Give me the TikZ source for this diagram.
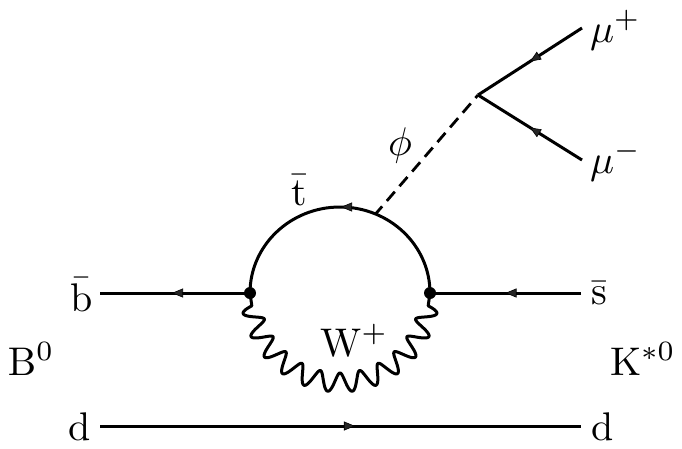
\documentclass[tikz,border=0pt]{standalone}
\usetikzlibrary{decorations.markings,arrows.meta}
\tikzset{
 x=1pt,y=-1pt,
 lbl/.style={anchor=base west,inner sep=0pt,outer sep=0pt,scale=4},
 blob/.style={circle,fill=black,inner sep=0pt,minimum size=12pt},
 tip/.style={decorate,decoration={markings,
   mark=at position #1 with {\arrow{Triangle[length=11pt,width=9pt,line width=0.6pt,fill=black!85]}}}},
 fermion/.style={line width=3pt,postaction={tip=#1}},
 fermion/.default=0.5,
 scalar/.style={line width=2.8pt,dash pattern=on 12.2pt off 7.2pt,dash phase=2.8pt},
 boson/.style={line width=3pt,line join=round}
}
\begin{document}
\begin{tikzpicture}
\useasboundingbox (0,0) rectangle (682,448);
\coordinate (bl) at (100,293);
\coordinate (sr) at (581,293);
\coordinate (dl) at (100,426);
\coordinate (dr) at (581,426);
\coordinate (vl) at (250,293);
\coordinate (vr) at (430,293);
\coordinate (top) at (340,207);
\coordinate (topa) at (345,207);
\coordinate (topb) at (337,207);
\coordinate (tap) at (376,213.5);
\coordinate (vphi) at (478,95);
\coordinate (mup) at (582,28);
\coordinate (mum) at (582,160);
\draw[fermion=0.52] (vl) -- (bl);
\draw[fermion=0.5] (sr) -- (vr);
\draw[fermion=0.53] (dl) -- (dr);
\draw[fermion=0.5] (mup) -- (vphi);
\draw[fermion=0.5] (mum) -- (vphi);
\draw[line width=3pt] (vl) .. controls +(0,-47.5) and +(-49.7,0) .. (top)
   .. controls +(49.7,0) and +(0,-47.5) .. (vr);
\path[line width=3pt,postaction={tip=0.5}] (topa) -- (topb);
\draw[scalar] (tap) -- (vphi);
\draw[boson] (vl) -- plot[domain=8.25:171.75,samples=500,variable=\t]
  ({340-(89.5-9.5*cos((\t-90)*25.352))*cos(\t)},{293+(89.5-9.5*cos((\t-90)*25.352))*sin(\t)}) -- (vr);
\node[blob] (nl) at (vl) {};
\node[blob] (nr) at (vr) {};
\node[lbl] (tb) at (70,311) {$\bar{\mathrm{b}}$};
\node[lbl] (tB) at (8,375) {$\mathrm{B}^0$};
\node[lbl] (td) at (68,440) {d};
\node[lbl] (ts) at (591,304) {$\bar{\mathrm{s}}$};
\node[lbl] (tK) at (610,375) {$\mathrm{K}^{*0}$};
\node[lbl] (tdr) at (591,440) {d};
\node[lbl] (tmup) at (590,42) {$\mu^+$};
\node[lbl] (tmum) at (590,173) {$\mu^-$};
\node[lbl] (tphi) at (388,155) {$\phi$};
\node[lbl] (tt) at (291,205) {$\bar{\mathrm{t}}$};
\node[lbl] (tW) at (320,356) {$\mathrm{W}^+$};
\end{tikzpicture}
\end{document}
